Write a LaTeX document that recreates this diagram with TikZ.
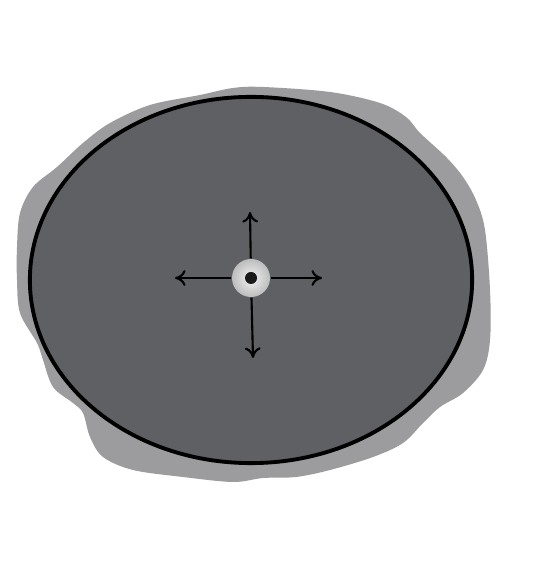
\documentclass[tikz,border=0pt]{standalone}
\usetikzlibrary{arrows.meta}
\definecolor{blobgray}{HTML}{9C9C9E}
\definecolor{diskgray}{HTML}{5F6064}
\begin{document}
\begin{tikzpicture}[
   x=0.01cm,y=-0.01cm,
   blob/.style={fill=blobgray,draw=none},
   disk/.style={fill=diskgray,draw=black,line width=1.1pt},
   hub/.style={circle,minimum size=0.38cm,inner sep=0pt,inner color=gray!10,outer color=gray!52},
   core/.style={circle,fill=black!90,minimum size=0.12cm,inner sep=0pt},
   push/.style={-{To[length=3pt,width=4.5pt]},line width=0.6pt,black}
 ]
  \useasboundingbox (0,0) rectangle (533,565);
  \fill[white] (0,0) rectangle (533,565);

  \path[blob] plot[smooth cycle,tension=0.55] coordinates {
    (233,88) (263,87) (330,92) (380,103) (406,117) (420,133) (446,157)
    (463,177) (476,200) (485,230) (490,290) (490,340) (483,370) (463,393)
    (440,407) (423,423) (403,443) (373,457) (330,470) (296,477) (263,478)
    (233,482) (183,477) (133,470) (103,457) (90,437) (83,413) (73,403)
    (53,387) (43,360) (37,343) (20,313) (17,280) (17,247) (20,213)
    (33,187) (57,167) (83,143) (110,123) (150,105) (200,95)};
  \draw[disk] (251,280) ellipse [x radius=2.21cm,y radius=1.83cm];

  \node[hub] (hub) at (251,278) {};
  \node[core] (core) at (hub.center) {};

  \coordinate (up) at (250,212);
  \coordinate (down) at (253,358);
  \coordinate (left) at (175,278);
  \coordinate (right) at (322,278);
  \draw[push] (hub) -- (up);
  \draw[push] (hub) -- (down);
  \draw[push] (hub) -- (left);
  \draw[push] (hub) -- (right);
 \end{tikzpicture}
\end{document}
